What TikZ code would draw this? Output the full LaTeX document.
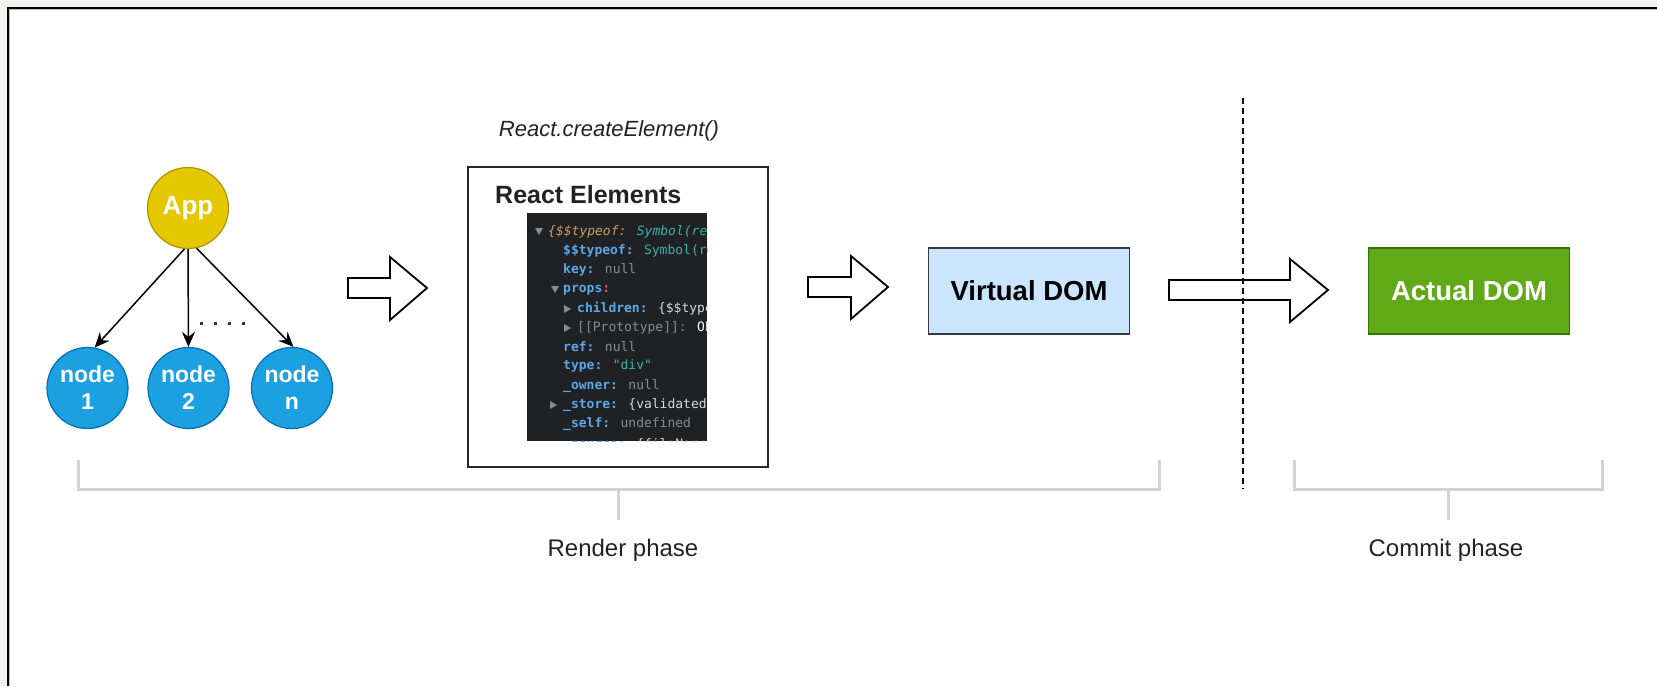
\documentclass[tikz,border=0pt]{standalone}
\usepackage{fontspec}
\setmainfont{Liberation Sans}
\newfontfamily\codefont{DejaVu Sans Mono}
\usetikzlibrary{arrows.meta,calc}
\definecolor{bgout}{HTML}{F1F1ED}
\definecolor{appfill}{HTML}{E3C800}
\definecolor{appline}{HTML}{B09500}
\definecolor{leaffill}{HTML}{1BA1E2}
\definecolor{leafline}{HTML}{006EAF}
\definecolor{vfill}{HTML}{CCE5FF}
\definecolor{vline}{HTML}{36393D}
\definecolor{afill}{HTML}{60A917}
\definecolor{aline}{HTML}{2D7600}
\definecolor{codebg}{HTML}{202124}
\definecolor{ckey}{HTML}{5AA8E8}
\definecolor{cteal}{HTML}{35B5A5}
\definecolor{ctan}{HTML}{C8A060}
\definecolor{cgrey}{HTML}{8A8A8A}
\definecolor{cwhite}{HTML}{D8D8D8}
\definecolor{brk}{HTML}{D3D3D3}
\definecolor{txt}{HTML}{222222}
\begin{document}
\begin{tikzpicture}[x=1pt,y=-1pt,
  treenode/.style={circle, minimum size=81pt, inner sep=0pt, line width=1.2pt, align=center, text=white},
  appc/.style={treenode, fill=appfill, draw=appline, font=\bfseries\fontsize{26}{28}\selectfont},
  leaf/.style={treenode, fill=leaffill, draw=leafline, font=\bfseries\fontsize{23}{27}\selectfont},
  edge/.style={draw=black, line width=1.5pt, -{Stealth[length=15pt,width=13pt,inset=5pt]}},
  blockarrow/.style={draw=black, line width=1.8pt, fill=white, line join=miter},
  dombox/.style={minimum width=201pt, minimum height=86pt, inner sep=0pt, line width=1.5pt, font=\bfseries\fontsize{27.5}{30}\selectfont},
  bracket/.style={draw=brk, line width=3pt},
  phase/.style={text=txt, font=\fontsize{24}{28}\selectfont},
  codeline/.style={anchor=west, inner sep=0pt, font=\codefont\fontsize{13}{15}\selectfont},
  tri/.style={fill=cgrey}
]
\useasboundingbox (0,0) rectangle (1657,686);
\fill[bgout] (0,0) rectangle (1657,686);
\fill[white] (8,8) rectangle (1657,686);
\draw[black, line width=2pt] (7.5,686) -- (7.5,7.5) -- (1657,7.5);
\draw[gray!55, line width=1pt] (9.5,686) -- (9.5,9.5) -- (1657,9.5);

% tree
\node[appc] (app) at (188,208) {App};
\node[leaf] (n1) at (87.5,388) {node\\1};
\node[leaf] (n2) at (188.5,388) {node\\2};
\node[leaf] (n3) at (292,388) {node\\n};
\draw[edge] (app.265) -- (n1.80);
\draw[edge] (app.south) -- (n2.north);
\draw[edge] (app.-78) -- (n3.88);
\coordinate (d1) at (200,323);
\coordinate (d2) at (254,323);
\draw[black!80, line width=3pt, dash pattern=on 3pt off 11pt] (d1) -- (d2);

% block arrows
\draw[blockarrow] (348,278) -- (390,278) -- (390,257) -- (427,288) -- (390,320) -- (390,298) -- (348,298) -- cycle;
\draw[blockarrow] (808,277) -- (851,277) -- (851,256) -- (888,287) -- (851,319) -- (851,297) -- (808,297) -- cycle;
\draw[blockarrow] (1169,280) -- (1290,280) -- (1290,259) -- (1328,290) -- (1290,322) -- (1290,300) -- (1169,300) -- cycle;

% React elements
\node[text=txt, font=\itshape\fontsize{22}{26}\selectfont] (ce) at (609,131) {React.createElement()};
\node[draw=black!85, line width=1.5pt, minimum width=300pt, minimum height=300pt, inner sep=0pt] (re) at (618,317) {};
\node[anchor=base west, inner sep=0pt, text=txt, font=\bfseries\fontsize{25}{28}\selectfont] (retitle) at (495,203) {React Elements};
\node[fill=codebg, minimum width=180pt, minimum height=228pt, inner sep=0pt] (code) at (617,327) {};
\begin{scope}
\clip (527,213) rectangle (707,441);
\fill[tri] (535,228) -- (543,228) -- (539,235) -- cycle;
\node[codeline] (c1) at (548,232) {\itshape\textcolor{ctan}{\{\$\$typeof:} \textcolor{cteal}{Symbol(react.element)}};
\node[codeline] (c2) at (563,251) {\textcolor{ckey}{\bfseries\$\$typeof:} \textcolor{cteal}{Symbol(react.element)}};
\node[codeline] (c3) at (563,270) {\textcolor{ckey}{\bfseries key:} \textcolor{cgrey}{null}};
\fill[tri] (551,286) -- (559,286) -- (555,293) -- cycle;
\node[codeline] (c4) at (563,290) {\textcolor{ckey}{\bfseries props}\textcolor{red!70}{\bfseries :}};
\fill[tri] (564,305) -- (564,313) -- (571,309) -- cycle;
\node[codeline] (c5) at (577,309) {\textcolor{ckey}{\bfseries children:} \textcolor{cwhite}{\{\$\$typeof: Symbol}};
\fill[tri] (564,324) -- (564,332) -- (571,328) -- cycle;
\node[codeline] (c6) at (577,328) {\textcolor{cgrey}{[[Prototype]]:} \textcolor{white}{Object}};
\node[codeline] (c7) at (563,347) {\textcolor{ckey}{\bfseries ref:} \textcolor{cgrey}{null}};
\node[codeline] (c8) at (563,366) {\textcolor{ckey}{\bfseries type:} \textcolor{cteal}{"div"}};
\node[codeline] (c9) at (563,386) {\textcolor{ckey}{\bfseries\_owner:} \textcolor{cgrey}{null}};
\fill[tri] (550,401) -- (550,409) -- (557,405) -- cycle;
\node[codeline] (c10) at (563,405) {\textcolor{ckey}{\bfseries\_store:} \textcolor{cwhite}{\{validated: false\}}};
\node[codeline] (c11) at (563,424) {\textcolor{ckey}{\bfseries\_self:} \textcolor{cgrey}{undefined}};
\node[codeline] (c12) at (563,445) {\textcolor{ckey}{\bfseries\_source:} \textcolor{cwhite}{\{fileName: ""\}}};
\end{scope}

% DOM boxes
\node[dombox, fill=vfill, draw=vline, text=black] (vdom) at (1029,291) {Virtual DOM};
\node[dombox, fill=afill, draw=aline, text=white] (adom) at (1469,291) {Actual DOM};

% phase divider
\coordinate (dtop) at (1243,98);
\coordinate (dbot) at (1243,489);
\draw[black, line width=1.5pt, dash pattern=on 6pt off 4pt] (dtop) -- (dbot);

% brackets
\node[phase] (render) at (623,550) {Render phase};
\node[phase] (commit) at (1446,550) {Commit phase};
\draw[bracket] (78,460) -- (78,489) -- (1159,489) -- (1159,460);
\draw[bracket] (618,489) -- (618,520);
\draw[bracket] (1294,460) -- (1294,489) -- (1602,489) -- (1602,460);
\draw[bracket] (1448,489) -- (1448,520);
\end{tikzpicture}
\end{document}
